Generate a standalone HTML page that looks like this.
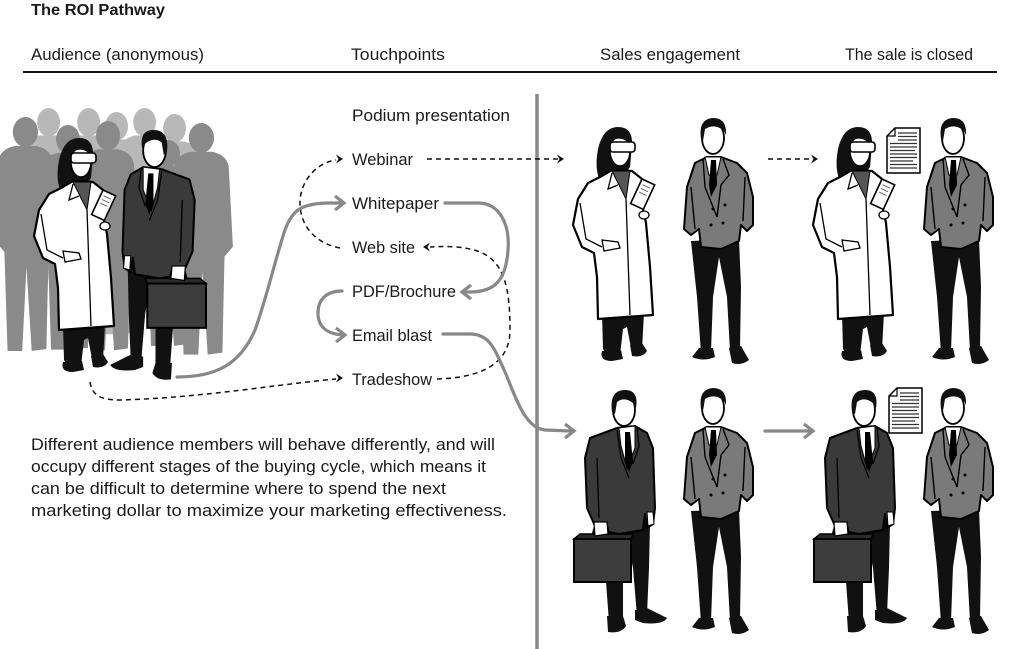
<!DOCTYPE html>
<html><head><meta charset="utf-8"><style>
html,body{margin:0;padding:0;background:#fff;}
svg{display:block;}
text{font-family:"Liberation Sans",sans-serif;fill:#1a1a1a;}
</style></head><body>
<svg width="1024" height="649" viewBox="0 0 1024 649" xmlns="http://www.w3.org/2000/svg">
<defs>
  <!-- crowd silhouette -->
  <g id="sil">
    <ellipse cx="28" cy="15" rx="12" ry="15"/>
    <path d="M2,44 Q4,32 18,29 L38,29 Q52,32 54,44 L58,125 L50,135 L48,232 L34,234 L29,150 L25,234 L11,234 L8,135 L0,125 Z"/>
  </g>
  <!-- scientist -->
  <g id="sci">
    <path d="M30,186 L72,186 L70,222 L60,226 L55,200 L51,202 L48,228 L36,230 L31,222 Z" fill="#111"/>
    <path d="M30,224 Q27,234 40,234 L51,232 L49,223 Z" fill="#111"/>
    <path d="M58,218 L60,229 Q71,231 75,224 L70,216 Z" fill="#111"/>
    <path d="M33,62 Q21,48 26,22 Q31,0 46,0 Q61,0 60,18 L58,40 L44,60 Z" fill="#111"/>
    <path d="M28,50 L40,43 L60,44 L70,52 L70,78 L74,96 L78,140 L81,188 L26,192 L25,150 L22,126 L10,120 L1,98 L6,72 L16,56 Z" fill="#fff" stroke="#000" stroke-width="2.2" stroke-linejoin="round"/>
    <path d="M40,44 L58,44 L54,72 L48,60 Z" fill="#555" stroke="#000" stroke-width="1"/>
    <path d="M8,76 L14,112 L30,120 M54,72 L58,188 M40,46 L36,62 L46,58" fill="none" stroke="#000" stroke-width="1.3"/>
    <path d="M30,113 L46,115 L48,121 L32,124 Z" fill="#fff" stroke="#000" stroke-width="1.3"/>
    <g transform="translate(70,52) rotate(25)">
      <rect x="0" y="0" width="14" height="27" fill="#fff" stroke="#000" stroke-width="1.6"/>
      <path d="M3,5 L11,5 M3,9 L11,9 M3,13 L11,13" stroke="#666" stroke-width="1"/>
    </g>
    <ellipse cx="72" cy="88" rx="5" ry="4" fill="#fff" stroke="#000" stroke-width="1.3"/>
    <ellipse cx="48" cy="24" rx="10" ry="15" fill="#fff" stroke="#000" stroke-width="1.5"/>
    <path d="M37,22 Q38,5 48,4 Q59,5 59,18 Q52,10 44,12 Q39,14 38,24 Z" fill="#111"/>
    <rect x="38" y="15" width="25" height="10" rx="3" fill="#fff" stroke="#000" stroke-width="1.6"/>
  </g>
  <!-- gray double-breasted man -->
  <g id="gm">
    <path d="M8,124 L56,122 L58,170 L57,232 L47,234 L44,180 L36,140 L30,180 L28,234 L18,236 L14,180 Z" fill="#111"/>
    <path d="M16,231 L30,231 L32,240 Q20,245 9,240 Z" fill="#111"/>
    <path d="M46,231 L58,229 L66,243 Q58,249 49,246 Z" fill="#111"/>
    <path d="M12,46 L24,40 L38,40 L54,46 L64,56 L70,80 L70,108 L64,114 L58,108 L56,124 L38,132 L18,130 L16,112 L8,118 L1,112 L4,70 Z" fill="#7a7a7a" stroke="#000" stroke-width="2" stroke-linejoin="round"/>
    <path d="M22,40 L38,40 L34,58 L26,58 Z" fill="#fff" stroke="#000" stroke-width="1"/>
    <path d="M28,43 L33,43 L34,68 L28,80 L26,68 Z" fill="#000"/>
    <path d="M20,42 L22,70 L34,100 M40,42 L46,58 L38,68 L34,100 M8,70 L12,112 M62,60 L60,104" fill="none" stroke="#000" stroke-width="1.4"/>
    <circle cx="30" cy="92" r="1.5"/><circle cx="42" cy="88" r="1.5"/><circle cx="28" cy="108" r="1.5"/><circle cx="40" cy="106" r="1.5"/>
    <ellipse cx="30" cy="21" rx="11" ry="16" fill="#fff" stroke="#000" stroke-width="1.8"/>
    <path d="M18,22 Q15,2 30,1 Q44,1 43,18 L41,14 Q32,6 22,12 L20,24 Z" fill="#111"/>
  </g>
  <!-- dark suit man with briefcase -->
  <g id="dm">
    <path d="M30,136 L77,134 L76,180 L74,226 L64,228 L60,180 L54,150 L50,180 L50,232 L36,234 L32,180 Z" fill="#111"/>
    <path d="M34,228 L50,228 L53,238 Q48,246 35,244 Z" fill="#111"/>
    <path d="M62,222 L74,220 L94,230 Q90,237 70,235 L62,232 Z" fill="#111"/>
    <path d="M17,50 L44,40 L62,38 L74,45 L80,60 L82,120 L80,136 L74,140 L72,126 L70,142 L46,146 L26,142 L22,138 L14,120 L12,70 Z" fill="#3a3a3a" stroke="#000" stroke-width="2" stroke-linejoin="round"/>
    <path d="M46,40 L62,38 L62,60 L54,80 L48,58 Z" fill="#fff" stroke="#000" stroke-width="1"/>
    <path d="M52,44 L57,44 L60,74 L56,84 L52,74 Z" fill="#000"/>
    <path d="M44,42 L48,70 L56,90 M64,40 L66,58 L60,76 M24,70 L26,130" fill="none" stroke="#000" stroke-width="1.3"/>
    <path d="M74,124 L80,124 L81,136 L75,138 Z" fill="#fff" stroke="#000" stroke-width="1"/>
    <path d="M1,151 L7,146 L60,146 L58,151 Z" fill="#2a2a2a" stroke="#000" stroke-width="1.5"/>
    <rect x="1" y="151" width="57" height="43" fill="#3c3c3c" stroke="#000" stroke-width="2"/>
    <path d="M20,147 L22,140 L34,140 L36,147" fill="none" stroke="#000" stroke-width="3"/>
    <path d="M21,134 L34,134 L35,146 L22,148 Z" fill="#fff" stroke="#000" stroke-width="1.2"/>
    <ellipse cx="51" cy="22" rx="11" ry="16" fill="#fff" stroke="#000" stroke-width="1.8"/>
    <path d="M39,24 Q36,2 52,2 Q66,2 63,20 L61,16 Q52,8 44,14 L42,26 Z" fill="#111"/>
  </g>
  <!-- document -->
  <g id="doc">
    <path d="M8,0 L33,0 L33,45 L0,45 L0,8 Z" fill="#fff" stroke="#000" stroke-width="1.5"/>
    <path d="M0,8 L8,8 L8,0" fill="none" stroke="#000" stroke-width="1.2"/>
    <path d="M11,5 L30,5 M11,8.5 L30,8.5 M11,12 L30,12 M3,15.5 L30,15.5 M3,19 L30,19 M3,22.5 L28,22.5 M3,26 L30,26 M3,29.5 L30,29.5 M3,33 L26,33 M3,36.5 L30,36.5 M3,40 L30,40" stroke="#333" stroke-width="1.3"/>
  </g>
  <path id="da" d="M-7,-4.5 L0,0 L-7,4.5 L-4.5,0 Z" fill="#111"/>
  <path id="ga" d="M-9,-7 L0,0 L-9,7" fill="none" stroke="#888" stroke-width="3.2"/>
</defs>

<!-- Title and headers -->
<text x="31" y="15" font-size="15.5" font-weight="bold" textLength="134" lengthAdjust="spacingAndGlyphs">The ROI Pathway</text>
<text x="31" y="60" font-size="17" textLength="173" lengthAdjust="spacingAndGlyphs">Audience (anonymous)</text>
<text x="351" y="60" font-size="17" textLength="94" lengthAdjust="spacingAndGlyphs">Touchpoints</text>
<text x="600" y="60" font-size="17" textLength="140" lengthAdjust="spacingAndGlyphs">Sales engagement</text>
<text x="845" y="60" font-size="17" textLength="128" lengthAdjust="spacingAndGlyphs">The sale is closed</text>
<line x1="23" y1="72" x2="997" y2="72" stroke="#111" stroke-width="2"/>

<!-- vertical divider -->
<line x1="537" y1="94" x2="537" y2="649" stroke="#888" stroke-width="3.5"/>

<!-- crowd -->
<g fill="#b8b8b8">
  <use href="#sil" transform="translate(22,108) scale(0.95)"/>
  <use href="#sil" transform="translate(62,108) scale(0.95)"/>
  <use href="#sil" transform="translate(90,112) scale(0.95)"/>
  <use href="#sil" transform="translate(118,108) scale(0.95)"/>
  <use href="#sil" transform="translate(148,114) scale(0.95)"/>
</g>
<g fill="#8a8a8a">
  <use href="#sil" transform="translate(-4,117) scale(1.05,1)"/>
  <use href="#sil" transform="translate(40,125) scale(1,0.96)"/>
  <use href="#sil" transform="translate(80,121) scale(1,0.98)"/>
  <use href="#sil" transform="translate(140,140) scale(1,0.88)"/>
  <use href="#sil" transform="translate(172,123) scale(1.05,0.99)"/>
</g>

<!-- audience people -->
<use href="#sci" transform="translate(33,138)"/>
<use href="#dm" transform="translate(207,128) scale(-1.03,1.03)"/>

<!-- sales engagement -->
<use href="#sci" transform="translate(572,127)"/>
<use href="#gm" transform="translate(683,117)"/>
<use href="#dm" transform="translate(573,388)"/>
<use href="#gm" transform="translate(683,387)"/>

<!-- sale closed -->
<use href="#sci" transform="translate(812,127)"/>
<use href="#gm" transform="translate(923,117)"/>
<use href="#dm" transform="translate(813,388)"/>
<use href="#gm" transform="translate(923,387)"/>
<use href="#doc" transform="translate(887,128)"/>
<use href="#doc" transform="translate(889,388)"/>

<!-- touchpoints -->
<g font-size="16.5">
<text x="352" y="121" textLength="158" lengthAdjust="spacingAndGlyphs">Podium presentation</text>
<text x="352" y="165" textLength="61" lengthAdjust="spacingAndGlyphs">Webinar</text>
<text x="352" y="209" textLength="87" lengthAdjust="spacingAndGlyphs">Whitepaper</text>
<text x="352" y="253" textLength="63" lengthAdjust="spacingAndGlyphs">Web site</text>
<text x="352" y="297" textLength="104" lengthAdjust="spacingAndGlyphs">PDF/Brochure</text>
<text x="352" y="341" textLength="80" lengthAdjust="spacingAndGlyphs">Email blast</text>
<text x="352" y="385" textLength="80" lengthAdjust="spacingAndGlyphs">Tradeshow</text>
</g>

<!-- dashed connectors -->
<g fill="none" stroke="#111" stroke-width="1.5" stroke-dasharray="5 4">
  <path d="M427,159 L558,159"/>
  <path d="M340,248 C318,244 300,228 300,203 C300,180 318,162 336,160"/>
  <path d="M437,379 C470,378 510,370 510,330 C510,290 505,262 480,252 C465,246 445,246 430,247"/>
  <path d="M90,382 C92,395 100,400 120,400 C200,398 280,384 336,379"/>
  <path d="M768,159 L812,159"/>
</g>
<use href="#da" transform="translate(564,159)"/>
<use href="#da" transform="translate(343,159)"/>
<use href="#da" transform="translate(423,247) rotate(180)"/>
<use href="#da" transform="translate(343,378)"/>
<use href="#da" transform="translate(818,159)"/>

<!-- solid gray connectors -->
<g fill="none" stroke="#888" stroke-width="3.2" stroke-linecap="round">
  <path d="M177,377 C215,377 240,365 255,330 C266,300 275,260 285,230 C292,210 302,203 330,203 L342,203"/>
  <path d="M445,203 L478,203 C500,203 510,225 508,250 C506,280 495,292 470,292 L464,292"/>
  <path d="M342,291 C325,291 318,301 318,313 C318,326 326,334 343,335"/>
  <path d="M443,334 L470,334 C490,334 495,350 505,372 C515,395 524,428 545,430 L571,431"/>
  <path d="M765,431 L810,431"/>
</g>
<use href="#ga" transform="translate(344,203)"/>
<use href="#ga" transform="translate(462,292) rotate(180)"/>
<use href="#ga" transform="translate(345,335)"/>
<use href="#ga" transform="translate(574,431)"/>
<use href="#ga" transform="translate(813,431)"/>

<!-- paragraph -->
<g font-size="17">
<text x="31" y="450" textLength="464" lengthAdjust="spacingAndGlyphs">Different audience members will behave differently, and will</text>
<text x="31" y="472" textLength="455" lengthAdjust="spacingAndGlyphs">occupy different stages of the buying cycle, which means it</text>
<text x="31" y="494" textLength="415" lengthAdjust="spacingAndGlyphs">can be difficult to determine where to spend the next</text>
<text x="31" y="516" textLength="476" lengthAdjust="spacingAndGlyphs">marketing dollar to maximize your marketing effectiveness.</text>
</g>
</svg>
</body></html>
